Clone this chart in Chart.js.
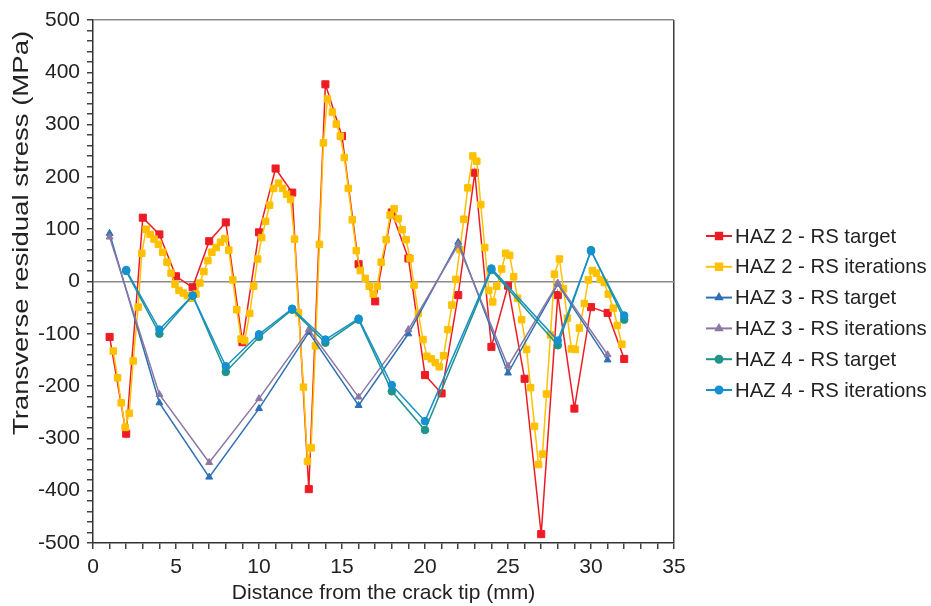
<!DOCTYPE html>
<html>
<head>
<meta charset="utf-8">
<script src="https://cdn.jsdelivr.net/npm/chart.js@4.4.1/dist/chart.umd.min.js"></script>
<style>
  html, body { margin: 0; padding: 0; background: #fff; }
</style>
</head>
<body>
<canvas id="chart" width="931" height="606"></canvas>
<script>
// HAZ 2 - measured every 1 mm, iterations every ~0.25 mm
const haz2TargetX = [1,2,3,4,5,6,7,8,9,10,11,12,13,14,15,16,17,18,19,20,21,22,23,24,25,26,27,28,29,30,31,32];
const haz2TargetY = [-106,-291,122,90,10,-11,77,113,-116,94,216,170,-397,377,278,33,-38,132,44,-179,-214,-26,208,-125,-8,-186,-483,-26,-243,-49,-60,-148];

const haz2IterX = [1.22,1.48,1.70,1.94,2.18,2.42,2.72,2.94,3.20,3.44,3.68,3.94,4.20,4.46,4.70,4.94,5.18,5.44,5.68,5.94,
  6.20,6.44,6.68,6.92,7.16,7.42,7.68,7.94,8.18,8.42,8.66,8.92,9.14,9.44,9.68,9.92,10.16,10.40,10.64,10.88,
  11.18,11.42,11.66,11.90,12.14,12.38,12.68,12.92,13.14,13.40,13.64,13.88,14.12,14.42,14.66,14.90,15.14,15.38,15.62,15.86,
  16.10,16.40,16.64,16.88,17.12,17.36,17.66,17.90,18.14,18.38,18.62,18.86,19.10,19.34,19.60,19.88,20.12,20.38,20.62,20.86,
  21.12,21.38,21.62,21.86,22.10,22.34,22.58,22.88,23.12,23.36,23.60,23.84,24.08,24.32,24.62,24.86,25.10,25.34,25.58,25.82,
  26.12,26.36,26.60,26.84,27.08,27.32,27.56,27.80,28.10,28.34,28.58,28.82,29.06,29.30,29.60,29.84,30.08,30.32,30.56,30.80,
  31.04,31.34,31.58,31.86];
const haz2IterY = [-133,-184,-232,-279,-252,-152,-49,54,100,90,81,71,56,37,16,-5,-17,-22,-27,-32,
  -24,-3,19,40,56,65,75,82,60,3,-54,-110,-113,-61,-9,43,84,115,146,178,
  188,178,167,157,81,-60,-202,-344,-318,-123,71,265,349,324,301,278,237,178,118,59,
  21,6,-9,-24,-9,37,80,127,139,120,99,80,44,-7,-61,-111,-143,-148,-155,-163,
  -142,-92,-45,4,61,119,179,240,230,147,65,-17,-39,-9,24,54,50,9,-32,-73,
  -130,-203,-277,-350,-330,-215,-102,14,43,-14,-70,-129,-130,-89,-42,3,21,16,4,-2,
  -24,-51,-84,-120];

// HAZ 3 - every 3 mm
const haz3X = [1,4,7,10,13,16,19,22,25,28,31];
const haz3TargetY = [92,-232,-374,-243,-97,-237,-100,75,-175,-5,-150];
const haz3IterY = [85,-216,-346,-224,-92,-221,-92,70,-162,-3,-140];

// HAZ 4 - every 2 mm (some gaps)
const haz4X = [2,4,6,8,10,12,14,16,18,20,24,28,30,32];
const haz4TargetY = [20,-100,-27,-173,-106,-54,-117,-73,-210,-284,22,-122,60,-73];
const haz4IterY = [22,-92,-27,-162,-101,-52,-111,-71,-198,-267,25,-113,58,-65];

const seriesNames = ['HAZ 2 - RS target','HAZ 2 - RS iterations','HAZ 3 - RS target','HAZ 3 - RS iterations','HAZ 4 - RS target','HAZ 4 - RS iterations'];
const colors = ['#ed1c24','#ffc000','#2e70b4','#8b77a3','#1f9488','#1590d0'];

const xTickValues = [0,5,10,15,20,25,30,35];
const yTickValues = [-500,-400,-300,-200,-100,0,100,200,300,400,500];

function pts(xs, ys) {
  return xs.map((x, i) => ({ x: x, y: ys[i] }));
}

function series(i, data, style, radius, width) {
  return {
    label: seriesNames[i],
    data: data,
    borderColor: colors[i],
    backgroundColor: colors[i],
    borderWidth: width,
    pointStyle: style,
    pointRadius: radius,
    pointBorderWidth: 1,
    pointBorderColor: colors[i],
    pointBackgroundColor: colors[i],
    tension: 0,
    order: 6 - i
  };
}

const datasets = [
  series(0, pts(haz2TargetX, haz2TargetY), 'rect', 5, 1.5),
  series(1, pts(haz2IterX, haz2IterY), 'rect', 4.6, 1.5),
  series(2, pts(haz3X, haz3TargetY), 'triangle', 4, 1.5),
  series(3, pts(haz3X, haz3IterY), 'triangle', 4, 1.5),
  series(4, pts(haz4X, haz4TargetY), 'circle', 3.8, 1.5),
  series(5, pts(haz4X, haz4IterY), 'circle', 3.8, 1.5)
];

const FONT = '"Liberation Sans", Arial, sans-serif';
Chart.defaults.font.family = FONT;
Chart.defaults.font.size = 21;
Chart.defaults.color = '#222';

// legend on the right: line sample + marker + label
const sideLegend = {
  id: 'sideLegend',
  afterDraw(chart) {
    const ctx = chart.ctx;
    ctx.save();
    chart.data.datasets.forEach((ds, i) => {
      const y = 236 + i * 30.8;
      ctx.strokeStyle = ds.borderColor;
      ctx.lineWidth = 2;
      ctx.beginPath();
      ctx.moveTo(706, y);
      ctx.lineTo(732, y);
      ctx.stroke();
      ctx.fillStyle = ds.borderColor;
      Chart.helpers.drawPoint(ctx, {
        pointStyle: ds.pointStyle,
        radius: ds.pointStyle === 'rect' ? 4.5 : 3.5,
        rotation: 0,
        borderWidth: 1
      }, 719, y);
      ctx.fillStyle = '#222';
      ctx.font = '20.3px ' + FONT;
      ctx.textAlign = 'left';
      ctx.textBaseline = 'middle';
      ctx.fillText(ds.label, 735, y + 1);
    });
    ctx.restore();
  }
};

// y axis title, placed and sized as in the original (text is drawn stretched lengthwise)
const yTitle = {
  id: 'yTitle',
  afterDraw(chart) {
    const ctx = chart.ctx;
    ctx.save();
    ctx.translate(22, 233);
    ctx.rotate(-Math.PI / 2);
    ctx.scale(1.28, 1);
    ctx.fillStyle = '#222';
    ctx.font = '21.5px ' + FONT;
    ctx.textAlign = 'center';
    ctx.textBaseline = 'middle';
    ctx.fillText('Transverse residual stress (MPa)', 0, 0);
    ctx.restore();
  }
};

new Chart(document.getElementById('chart'), {
  type: 'line',
  data: { datasets: datasets },
  plugins: [sideLegend, yTitle],
  options: {
    responsive: false,
    animation: false,
    layout: { padding: { left: 0, right: 257, top: 20, bottom: 0 } },
    plugins: {
      legend: { display: false },
      tooltip: { enabled: false }
    },
    scales: {
      x: {
        type: 'linear',
        min: 0,
        max: 35,
        afterFit: s => { s.height = 63; },
        ticks: {
          stepSize: 1,
          autoSkip: false,
          maxRotation: 0,
          padding: 6,
          callback: v => xTickValues.includes(v) ? v : ''
        },
        grid: {
          drawOnChartArea: true,
          color: c => (c.tick && c.tick.value === 35) ? '#3a3a3a' : 'rgba(0,0,0,0)',
          tickColor: '#444',
          tickLength: 6,
          lineWidth: 1.5
        },
        border: { color: '#333', width: 1.5 },
        title: {
          display: true,
          text: 'Distance from the crack tip (mm)',
          padding: { top: 0, bottom: 0 },
          color: '#222'
        }
      },
      y: {
        min: -500,
        max: 500,
        afterFit: s => { s.width = 93; },
        ticks: {
          stepSize: 20,
          autoSkip: false,
          padding: 7,
          callback: v => yTickValues.includes(v) ? v : ''
        },
        grid: {
          drawOnChartArea: true,
          color: c => (c.tick && (c.tick.value === 0 || c.tick.value === 500)) ? '#8a8a8a' : 'rgba(0,0,0,0)',
          tickColor: '#444',
          tickLength: 6,
          lineWidth: 1.5
        },
        border: { color: '#333', width: 1.5 }
      }
    }
  }
});
</script>
</body>
</html>
